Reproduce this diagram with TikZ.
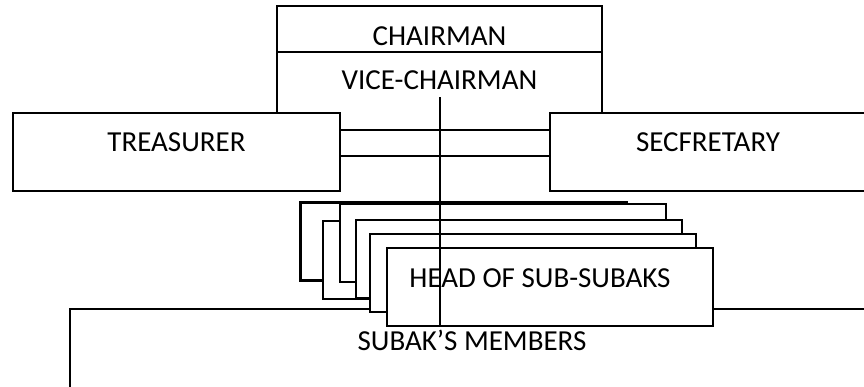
\documentclass[tikz,border=0pt]{standalone}
\usepackage{fontspec}
\setmainfont{Carlito}
\tikzstyle{bx}=[shape=rectangle, draw, fill=white, inner sep=0, minimum width=326, minimum height=78]

\begin{document}
\begin{tikzpicture}[x=1pt, y=-1pt, line width=2.2pt, every node/.style={font=\fontsize{29}{35}\selectfont}]
\useasboundingbox (0,0) rectangle (864,386);
\clip (0,0) rectangle (864,386);
\node at (439.5,29)[bx, minimum width=325, minimum height=46, label={[yshift=-7pt]center:CHAIRMAN}](chair){};
\node at (439.5,91)[bx, minimum width=325, label={[yshift=10.5pt]center:VICE-CHAIRMAN}](vice){};
\node at (176.5,152)[bx, minimum width=327, label={[yshift=9.5pt]center:TREASURER}](treas){};
\node at (708,152)[bx, minimum width=316, label={[yshift=9.5pt]center:SECFRETARY}](secr){};
\draw ([yshift=22pt]treas.east)--([yshift=22pt]secr.west);
\draw ([yshift=-4pt]treas.east)--([yshift=-4pt]secr.west);
\node at (485,369.5)[bx, minimum width=830, minimum height=121, label={[xshift=-13pt, yshift=29.5pt]center:SUBAK’S MEMBERS}](members){};
% sub-subak boxes, back to front
\foreach \x/\y/\n in {463.5/241.5/1, 486/260/2, 503/243/3, 519/259/4, 533/273/5}
  {\node at (\x,\y)[bx](sub\n){};}
\node at (550,287)[bx, label={[xshift=-10pt, yshift=8.5pt]center:HEAD OF SUB-SUBAKS}](head){};
\coordinate (vc) at (440,97);
\draw (vc)--(vc |- head.south);
\end{tikzpicture}
\end{document}
